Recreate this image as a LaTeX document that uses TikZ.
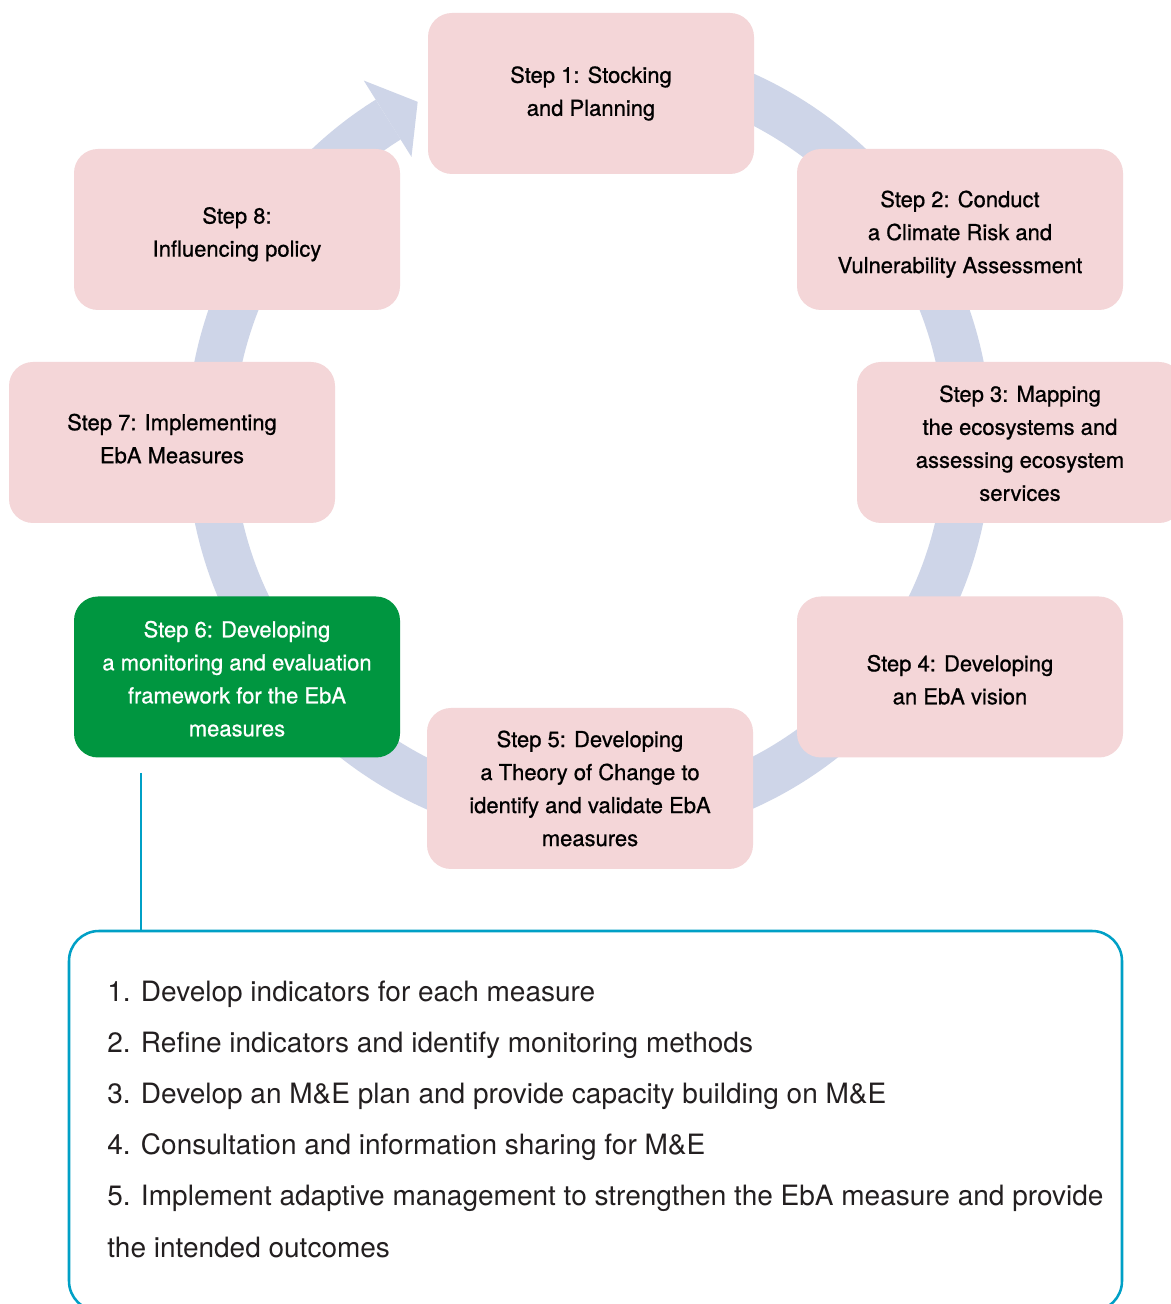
\documentclass[tikz,border=0pt]{standalone}
\usepackage{fontspec}
\setmainfont{TeX Gyre Heros}
\newfontfamily\stepfont{TeX Gyre Heros}[FakeBold=0.8]
\usetikzlibrary{calc}
\definecolor{ringblue}{RGB}{206,213,232}
\definecolor{steppink}{RGB}{244,214,216}
\definecolor{stepgreen}{RGB}{0,150,64}
\definecolor{frameblue}{RGB}{0,160,198}
\definecolor{listgray}{RGB}{35,31,32}
% invisible strut that makes a first line taller, pushing a text block down
\newcommand\lowerby[1]{\rule{0pt}{#1}}

\begin{document}
\begin{tikzpicture}[x=0.75pt,y=0.75pt,
  stepbox/.style={fill=steppink, rounded corners=18pt, minimum width=244.5pt,
    minimum height=120.75pt, inner sep=0pt, align=center,
    font=\stepfont\fontsize{16.5pt}{24.75pt}\selectfont, text=black},
  keystep/.style={stepbox, fill=stepgreen, text=white},
  textup/.style={execute at end node={\rule[-#1]{0pt}{0pt}}},
  listline/.style={anchor=base west, inner sep=0pt,
    font=\fontsize{21pt}{25pt}\selectfont, text=listgray},
  ring/.style={draw=ringblue, line width=35.25pt},
  frame/.style={draw=frameblue, line width=1.9pt, rounded corners=22.5pt,
    minimum width=789.75pt, minimum height=285pt, inner sep=0pt},
  tie/.style={draw=frameblue, line width=1.9pt}]
\useasboundingbox (0,0) rectangle (1171,1304);
\fill[white] (0,0) rectangle (1171,1304);

% cycle ring with arrowhead pointing back to step 1
\coordinate (ctr) at (589,863);
\draw[ring] ($(ctr)+(95:284.25pt)$) arc[start angle=95, end angle=-238, radius=284.25pt];
\fill[ringblue] ($(ctr)+(122:318.75pt)$) -- ($(ctr)+(116.8:285pt)$) -- ($(ctr)+(122:251.25pt)$) -- cycle;

% the eight steps
\node[stepbox] (s1) at (591,1210.5) {Step 1: Stocking\\and Planning};
\node[stepbox] (s2) at (960,1074.5) {\lowerby{19.5pt}Step 2: Conduct\\a Climate Risk and\\Vulnerability Assessment};
\node[stepbox] (s3) at (1020,861.5) {\lowerby{13.5pt}Step 3: Mapping\\the ecosystems and\\assessing ecosystem\\services};
\node[stepbox] (s4) at (960,627) {\lowerby{16.5pt}Step 4: Developing\\an EbA vision};
\node[stepbox] (s5) at (590,515.5) {Step 5: Developing\\a Theory of Change to\\identify and validate EbA\\measures};
\node[keystep] (s6) at (237,627) {\lowerby{15pt}Step 6: Developing\\a monitoring and evaluation\\framework for the EbA\\measures};
\node[stepbox, textup=6pt] (s7) at (172,861.5) {Step 7: Implementing\\EbA Measures};
\node[stepbox] (s8) at (237,1074.5) {\lowerby{19.5pt}Step 8:\\Influencing policy};

% detail box for step 6
\node[frame] (me) at (595.5,183) {};
\coordinate (tap) at (141,531);
\draw[tie] (tap) -- (tap |- me.north);

\node[listline] (l1) at (107,302) {1. Develop indicators for each measure};
\node[listline] (l2) at (107,251) {2. Refine indicators and identify monitoring methods};
\node[listline] (l3) at (107,200) {3. Develop an M\&E plan and provide capacity building on M\&E};
\node[listline] (l4) at (107,149) {4. Consultation and information sharing for M\&E};
\node[listline] (l5) at (107,98) {5. Implement adaptive management to strengthen the EbA measure and provide};
\node[listline] (l6) at (107,46) {the intended outcomes};
\end{tikzpicture}
\end{document}
